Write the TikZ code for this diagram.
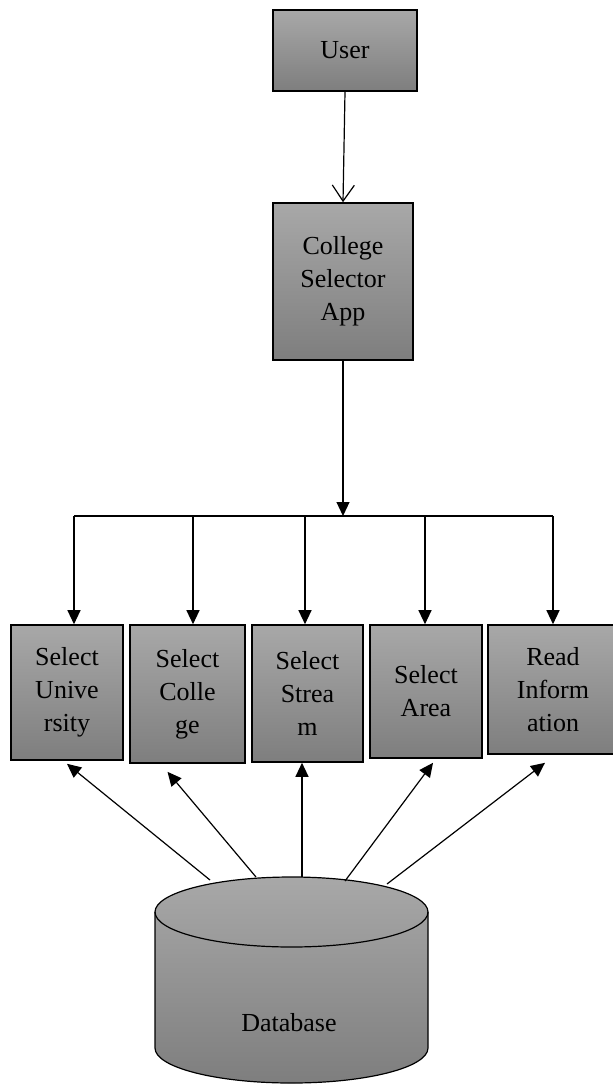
\documentclass[tikz,border=0pt]{standalone}
\usepackage{fontspec}
\setmainfont{Liberation Serif}
\usetikzlibrary{arrows.meta}
\definecolor{boxtop}{RGB}{168,168,168}
\definecolor{boxbot}{RGB}{126,126,126}
\begin{document}
\begin{tikzpicture}[x=0.5pt,y=-0.5pt,
  blk/.style={draw=black,line width=0.8pt,top color=boxtop,bottom color=boxbot,
    align=center,inner sep=0pt,font=\fontsize{13}{16.5}\selectfont},
  tri/.style={-{Triangle[length=7pt,width=6.5pt]},line width=0.6pt},
  barb/.style={-{Straight Barb[length=8pt,width=11pt]},line width=0.6pt}]
\useasboundingbox (0,0) rectangle (612,1086);
\node[blk,minimum width=72pt,minimum height=40.5pt] (user) at (345,50.5) {User};
\node[blk,minimum width=70pt,minimum height=78.5pt] (app) at (343,281.5) {College\\Selector\\App};
%
\node[blk,minimum width=56pt,minimum height=67.5pt] (univ) at (67,692.5) {Select\\Unive\\rsity};
\node[blk,minimum width=57.5pt,minimum height=69pt] (coll) at (187.5,694) {Select\\Colle\\ge};
\node[blk,minimum width=55.5pt,minimum height=68.5pt] (strm) at (307.5,693.5) {Select\\Strea\\m};
\node[blk,minimum width=56pt,minimum height=66.5pt] (area) at (426,691.5) {Select\\Area};
\node[blk,minimum width=65pt,minimum height=64.5pt] (info) at (553,689.5) {Read\\Inform\\ation};
%
\draw[barb] (user.south) -- (app.north);
\coordinate (hub) at (343,516);
\draw[tri] (app.south) -- (hub);
\coordinate (b1) at (74,516);
\coordinate (b2) at (193,516);
\coordinate (b3) at (305,516);
\coordinate (b4) at (425,516);
\coordinate (b5) at (553,516);
\draw[line width=0.6pt] (b1) -- (b5);
\draw[tri] (b1) -- (b1 |- univ.north);
\draw[tri] (b2) -- (b2 |- coll.north);
\draw[tri] (b3) -- (b3 |- strm.north);
\draw[tri] (b4) -- (b4 |- area.north);
\draw[tri] (b5) -- (b5 |- info.north);
%
\draw[line width=0.6pt,top color=boxtop,bottom color=boxbot] (155,912) -- (155,1048)
  arc[start angle=180,end angle=360,x radius=68.25pt,y radius=17.5pt] -- (428,912)
  arc[start angle=0,end angle=180,x radius=68.25pt,y radius=17.5pt] -- cycle;
\draw[line width=0.6pt] (155,912) arc[start angle=180,end angle=360,x radius=68.25pt,y radius=17.5pt];
\node[font=\fontsize{13}{16.5}\selectfont] (db) at (289,1023) {Database};
%
\coordinate (s1) at (210,880);
\coordinate (s2) at (256,877);
\coordinate (s3) at (302,877);
\coordinate (s4) at (345,881);
\coordinate (s5) at (387,884);
\draw[tri] (s1) -- ([yshift=-1.5pt]univ.south);
\draw[tri] (s2) -- ([xshift=-10pt,yshift=-4pt]coll.south);
\draw[tri] (s3) -- (s3 |- strm.south);
\draw[tri] (s4) -- ([xshift=3.5pt,yshift=-2pt]area.south);
\draw[tri] (s5) -- ([xshift=-4pt,yshift=-4pt]info.south);
\end{tikzpicture}
\end{document}
